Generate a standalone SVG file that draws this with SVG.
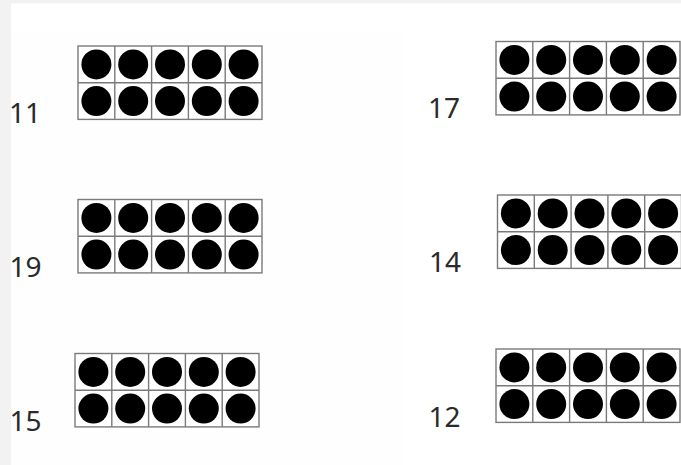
<svg xmlns="http://www.w3.org/2000/svg" xmlns:xlink="http://www.w3.org/1999/xlink" width="681" height="465" viewBox="0 0 681 465">
  <style>
    .grid { fill: #ffffff; stroke: #7a7a7a; stroke-width: 1.4; }
    .line { stroke: #7a7a7a; stroke-width: 1.4; }
    .dot { fill: #000000; }
    .num { font-family: "Noto Sans", "Open Sans", sans-serif; font-size: 28px; fill: #2a2a2a; }
  </style>
  <defs>
    <g id="tenframe">
      <rect class="grid" x="0" y="0" width="184" height="73.4"/>
      <line class="line" x1="0" y1="36.7" x2="184" y2="36.7"/>
      <line class="line" x1="36.8" y1="0" x2="36.8" y2="73.4"/>
      <line class="line" x1="73.6" y1="0" x2="73.6" y2="73.4"/>
      <line class="line" x1="110.4" y1="0" x2="110.4" y2="73.4"/>
      <line class="line" x1="147.2" y1="0" x2="147.2" y2="73.4"/>
      <circle class="dot" cx="18.4" cy="18.4" r="15"/>
      <circle class="dot" cx="55.2" cy="18.4" r="15"/>
      <circle class="dot" cx="92" cy="18.4" r="15"/>
      <circle class="dot" cx="128.8" cy="18.4" r="15"/>
      <circle class="dot" cx="165.6" cy="18.4" r="15"/>
      <circle class="dot" cx="18.4" cy="55.1" r="15"/>
      <circle class="dot" cx="55.2" cy="55.1" r="15"/>
      <circle class="dot" cx="92" cy="55.1" r="15"/>
      <circle class="dot" cx="128.8" cy="55.1" r="15"/>
      <circle class="dot" cx="165.6" cy="55.1" r="15"/>
    </g>
  </defs>
  <rect x="0" y="0" width="681" height="465" fill="#f2f2f2"/>
  <rect x="11" y="3.5" width="670" height="461.5" fill="#ffffff"/>
  <rect x="11" y="33" width="391" height="432" fill="#fefefe"/>

  <g id="item-11">
    <use xlink:href="#tenframe" x="78" y="46"/>
    <text class="num" x="9" y="123.3">11</text>
  </g>
  <g id="item-17">
    <use xlink:href="#tenframe" x="496" y="41.5"/>
    <text class="num" x="428" y="118.3">17</text>
  </g>
  <g id="item-19">
    <use xlink:href="#tenframe" x="78" y="199.5"/>
    <text class="num" x="9.5" y="277.3">19</text>
  </g>
  <g id="item-14">
    <use xlink:href="#tenframe" x="497.5" y="195"/>
    <text class="num" x="429" y="271.7">14</text>
  </g>
  <g id="item-15">
    <use xlink:href="#tenframe" x="75" y="353.5"/>
    <text class="num" x="9.5" y="431">15</text>
  </g>
  <g id="item-12">
    <use xlink:href="#tenframe" x="496" y="349"/>
    <text class="num" x="428.5" y="426.7">12</text>
  </g>
  <g id="connectors"></g>
</svg>
